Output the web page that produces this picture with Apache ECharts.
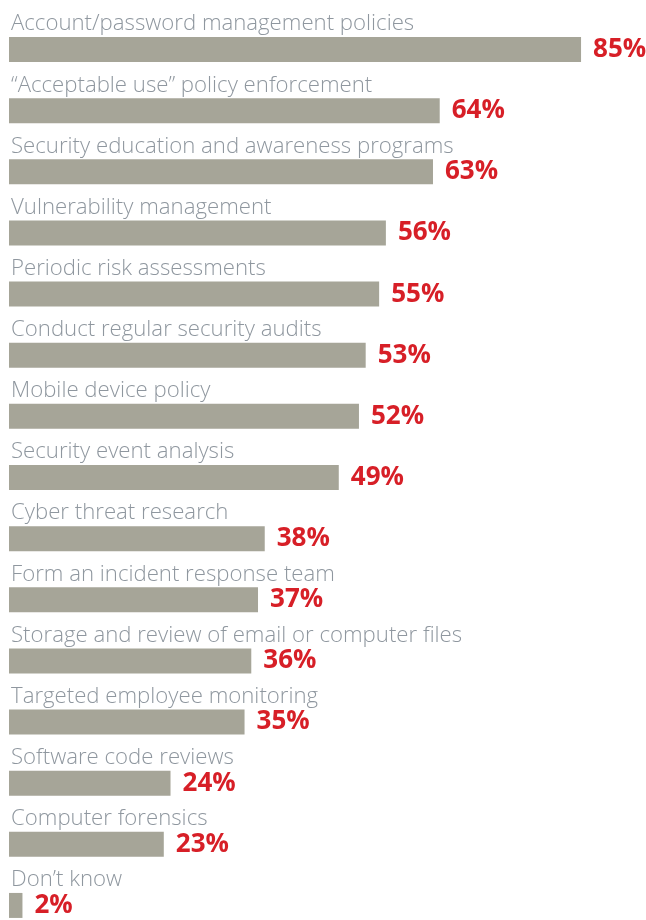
<!DOCTYPE html>
<html><head><meta charset="utf-8">
<script src="https://cdn.jsdelivr.net/npm/echarts@6/dist/echarts.min.js"></script>
<style>html,body{margin:0;padding:0;background:#fff}#c{width:646px;height:920px}</style>
</head><body><div id="c"></div>
<script>
var categories = ["Account/password management policies","\u201cAcceptable use\u201d policy enforcement","Security education and awareness programs","Vulnerability management","Periodic risk assessments","Conduct regular security audits","Mobile device policy","Security event analysis","Cyber threat research","Form an incident response team","Storage and review of email or computer files","Targeted employee monitoring","Software code reviews","Computer forensics","Don\u2019t know"];
var values = [85,64,63,56,55,53,52,49,38,37,36,35,24,23,2];

var chart = echarts.init(document.getElementById('c'));
chart.setOption({
  animation:false,
  grid:{left:9,right:-36,top:19,bottom:-16,outerBoundsMode:'none',containLabel:false},
  xAxis:{type:'value',min:0,max:100,show:false},
  yAxis:{type:'category',data:categories,inverse:true,show:false},
  series:[
    {type:'bar',data:values,barWidth:25,itemStyle:{color:'#a6a598'},
     label:{show:true,position:'right',distance:12,formatter:'{c}%',color:'#d71f27',fontFamily:'Open Sans',fontWeight:'bold',fontSize:26}},
    {type:'bar',data:values,barWidth:25,barGap:'-100%',itemStyle:{color:'rgba(0,0,0,0)'},
     label:{show:true,position:[2,-13],verticalAlign:'middle',align:'left',formatter:'{b}',color:'#8f979f',fontFamily:'Open Sans',fontWeight:300,fontSize:22.2}}
  ]
});
</script></body></html>
